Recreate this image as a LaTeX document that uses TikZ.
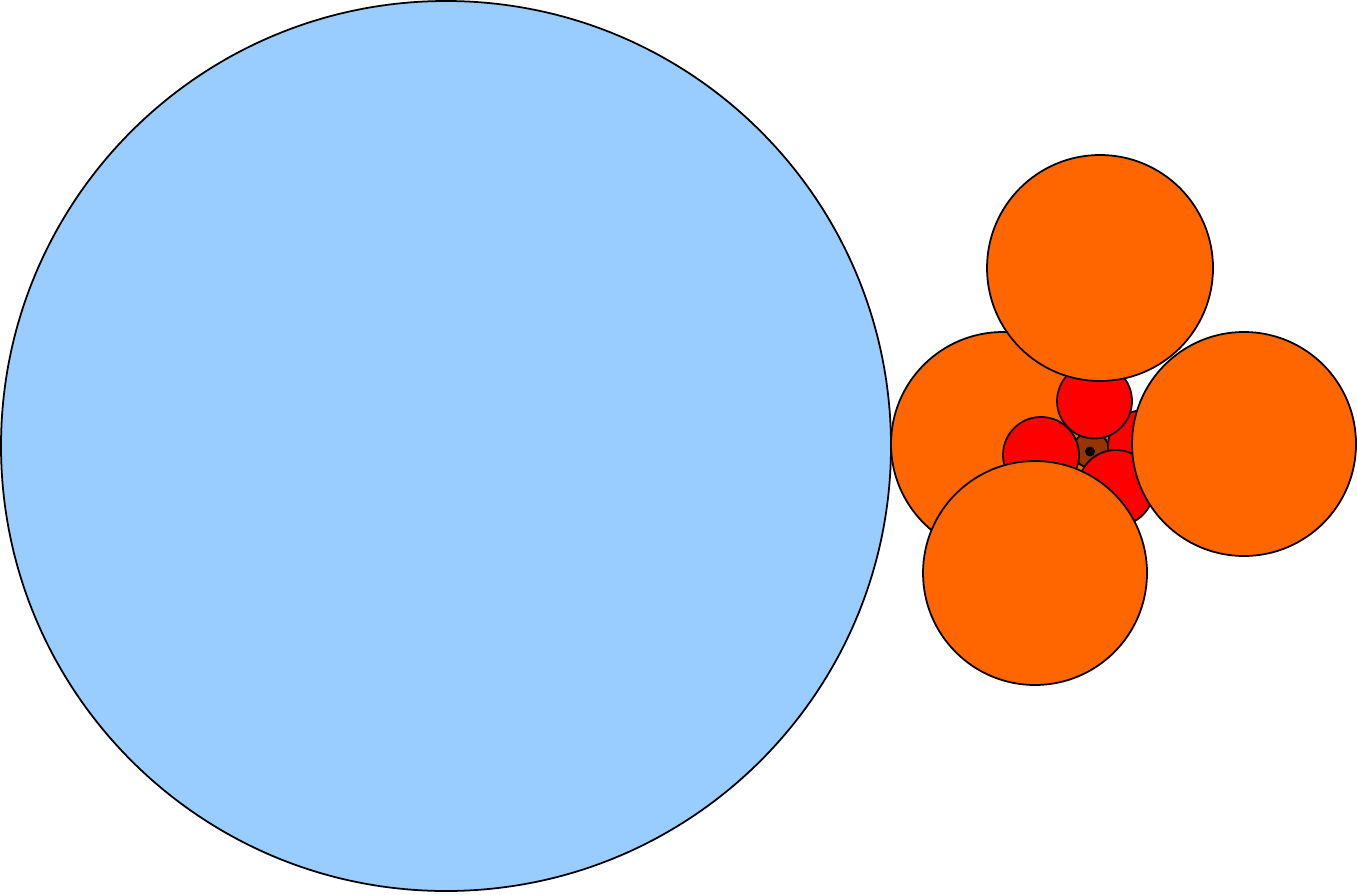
\documentclass[tikz,border=0pt]{standalone}
\usepackage{tikz}
\definecolor{skyblue}{HTML}{99CCFF}
\definecolor{ballorange}{HTML}{FF6600}
\definecolor{ballred}{HTML}{FF0000}
\definecolor{ballbrown}{HTML}{993300}
\tikzset{ball/.style={draw=black, line width=0.5pt}}

\begin{document}
\begin{tikzpicture}
      \useasboundingbox (0,0) rectangle (13.57,8.94);
      % 1. centres
      \coordinate (O) at (4.46,4.48);
      \coordinate (L) at (10.03,4.50);
      \coordinate (T) at (11.00,6.26);
      \coordinate (R) at (12.44,4.50);
      \coordinate (B) at (10.35,3.21);
      \coordinate (r_1) at (10.945,4.93);
      \coordinate (r_2) at (10.41,4.39);
      \coordinate (r_3) at (11.16,4.06);
      \coordinate (r_4) at (11.44,4.48);
      \coordinate (M) at (10.91,4.44);
      \coordinate (P) at (10.90,4.425);

      % 2. big blue circle and the left orange one
      \draw[ball, fill=skyblue] (O) circle (4.45);
      \draw[ball, fill=ballorange] (L) circle (1.12);

      % 3. brown circle and the point in it
      \draw[ball, fill=ballbrown] (M) circle (0.18);
      \fill[black] (P) circle (0.05);

      % 4. red circles
      \draw[ball, fill=ballred] (r_4) circle (0.36);
      \draw[ball, fill=ballred] (r_3) circle (0.38);
      \draw[ball, fill=ballred] (r_2) circle (0.38);
      \draw[ball, fill=ballred] (r_1) circle (0.375);

      % 5. other orange circles
      \draw[ball, fill=ballorange] (R) circle (1.12);
      \draw[ball, fill=ballorange] (B) circle (1.12);
      \draw[ball, fill=ballorange] (T) circle (1.13);
\end{tikzpicture}
\end{document}
